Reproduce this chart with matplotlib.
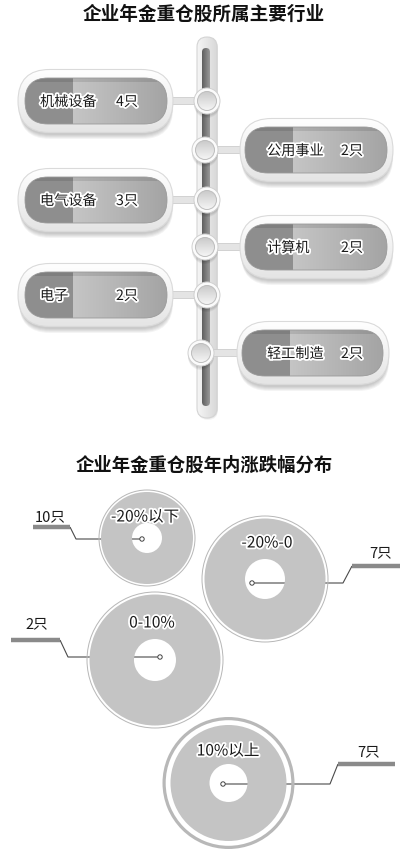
import numpy as np
import matplotlib
matplotlib.use("Agg")
import matplotlib.pyplot as plt
from matplotlib.patches import FancyBboxPatch, Circle, Wedge, Rectangle
import matplotlib.patheffects as pe
from matplotlib.colors import to_rgb

plt.rcParams['font.family'] = ['Noto Sans CJK SC', 'DejaVu Sans']

# ---------------- data ----------------
title1 = "企业年金重仓股所属主要行业"
industries = ["机械设备", "公用事业", "电气设备", "计算机", "电子", "轻工制造"]
industry_counts = [4, 2, 3, 2, 2, 2]

title2 = "企业年金重仓股年内涨跌幅分布"
ranges = ["-20%以下", "-20%-0", "0-10%", "10%以上"]
range_counts = [10, 7, 2, 7]

# ---------------- figure ----------------
fig = plt.figure(figsize=(4.07, 8.52), dpi=100)
ax = fig.add_axes([0, 0, 1, 1])
W, H = 407, 852


def grad(patch, x0, x1, y0, y1, c0, c1, vertical=False, zorder=2):
    n = 256
    t = np.linspace(0, 1, n)[:, None]
    a, b = np.array(to_rgb(c0)), np.array(to_rgb(c1))
    cols = a * (1 - t) + b * t
    img = cols[:, None, :] if vertical else cols[None, :, :]
    im = ax.imshow(img, extent=(x0, x1, y1, y0), origin='upper', aspect='auto',
                   zorder=zorder, interpolation='bilinear')
    im.set_clip_path(patch)
    return im


def pill(x0, x1, yc, h, zorder=2, **kw):
    r = h / 2
    p = FancyBboxPatch((x0 + r, yc), (x1 - x0) - 2 * r, 0,
                       boxstyle=f"round,pad={r},rounding_size={r}",
                       zorder=zorder, **kw)
    ax.add_patch(p)
    return p


halo = [pe.withStroke(linewidth=2.6, foreground='white')]

# ---------------- title 1 ----------------
ax.text(204, 14, title1, ha='center', va='center', fontsize=13.4,
        fontweight='bold', color='#111111')

# vertical spine
bar_x0, bar_x1, bar_y0, bar_y1 = 197, 217, 37, 418
for k in range(3):
    ax.add_patch(FancyBboxPatch((bar_x0 + 10 + 1, bar_y0 + 10 + k), 0, bar_y1 - bar_y0 - 20,
                                boxstyle="round,pad=10,rounding_size=10", facecolor='#000000',
                                alpha=0.04, edgecolor='none', zorder=1))
spine = FancyBboxPatch((bar_x0 + 10, bar_y0 + 10), 0, bar_y1 - bar_y0 - 20,
                       boxstyle="round,pad=10,rounding_size=10",
                       facecolor='none', edgecolor='#d4d4d4', lw=0.8, zorder=1.5)
ax.add_patch(spine)
grad(spine, bar_x0, bar_x1, bar_y0, bar_y1, '#f6f6f6', '#d8d8d8', zorder=1.4)
stripe = FancyBboxPatch((206, 52), 0, 350, boxstyle="round,pad=4,rounding_size=4",
                        facecolor='none', edgecolor='none', zorder=1.6)
ax.add_patch(stripe)
grad(stripe, 202, 210, 48, 406, '#5e5e5e', '#9a9a9a', zorder=1.6)

# industry pills
centers_y = [101, 150, 200, 247, 295, 353]
sides = ['L', 'R', 'L', 'R', 'L', 'R']
knob_x = [207, 205, 207, 205, 207, 201]
for name, cnt, yc, side, kx in zip(industries, industry_counts, centers_y, sides, knob_x):
    if side == 'L':
        ox0, ox1, ix0, ix1, dark_x1 = 18, 173, 25, 167, 73
        name_x, cnt_x = 40, 127
        conn = (ox1 - 3, kx - 10)
    else:
        if name == "轻工制造":
            ox0, ox1, ix0, ix1, dark_x1 = 237, 389, 242, 383, 290
        else:
            ox0, ox1, ix0, ix1, dark_x1 = 240, 393, 245, 387, 293
        name_x, cnt_x = 267, 352
        conn = (kx + 10, ox0 + 3)
    # connector
    ax.add_patch(Rectangle((conn[0], yc - 4), conn[1] - conn[0], 7, facecolor='#e4e4e4',
                           edgecolor='#cccccc', lw=0.6, zorder=2.5))
    # shadow
    for k in range(5):
        pill(ox0 + 1, ox1 - 1 + k * 0.3, yc + 3 + k, 62, zorder=2.6,
             facecolor='black', edgecolor='none', alpha=0.045)
    outer = pill(ox0, ox1, yc, 63, zorder=2.8, facecolor='none', edgecolor='#dadada', lw=0.8)
    grad(outer, ox0, ox1, yc - 32, yc + 32, '#ffffff', '#e4e4e4', vertical=True, zorder=2.7)
    inner = pill(ix0, ix1, yc, 46, zorder=3.2, facecolor='none', edgecolor='#9a9a9a', lw=0.6)
    grad(inner, ix0, ix1, yc - 23, yc + 23, '#d6d6d6', '#a4a4a4', zorder=3.0)
    dark = Rectangle((ix0, yc - 23), dark_x1 - ix0, 46, facecolor='#8e8e8e',
                     edgecolor='none', zorder=3.1)
    ax.add_patch(dark)
    dark.set_clip_path(inner)
    # top inner shadow
    sh = Rectangle((ix0, yc - 23), ix1 - ix0, 4, facecolor='black', alpha=0.10,
                   edgecolor='none', zorder=3.15)
    ax.add_patch(sh)
    sh.set_clip_path(inner)
    ax.text(name_x, yc + 1, name, ha='left', va='center', fontsize=10.2, color='#1a1a1a',
            path_effects=halo, zorder=4)
    ax.text(cnt_x, yc + 1, f"{cnt}只", ha='center', va='center', fontsize=10.2, color='#1a1a1a',
            path_effects=halo, zorder=4)
    # knob
    for k in range(3):
        ax.add_patch(Circle((kx, yc + 2 + k), 13, facecolor='black', alpha=0.05,
                            edgecolor='none', zorder=3.3))
    ax.add_patch(Circle((kx, yc), 13, facecolor='#fbfbfb', edgecolor='#d0d0d0', lw=0.7, zorder=3.4))
    kn = Circle((kx, yc), 9.5, facecolor='none', edgecolor='#bdbdbd', lw=0.7, zorder=3.6)
    ax.add_patch(kn)
    grad(kn, kx - 10, kx + 10, yc - 10, yc + 10, '#c9c9c9', '#f7f7f7', vertical=True, zorder=3.5)

# ---------------- title 2 ----------------
ax.text(204, 465, title2, ha='center', va='center', fontsize=13.2,
        fontweight='bold', color='#111111')

# donuts
donut_cx = [147, 265, 155, 228.5]
donut_cy = [538, 579, 660, 783]
ring_r = [48.5, 63.5, 68.5, 66]
fill_r = [46, 60.5, 65.5, 58]
hole_r = [15, 20, 21, 19]
ring_w = [1.0, 1.0, 1.0, 3.2]
label_xy = [(145, 517), (267, 543), (152, 623), (228, 751)]
dots = [(142, 539), (252, 583), (160, 657), (223, 784)]
leaders = [
    [(142, 539), (76, 539), (70, 527)],
    [(252, 583), (343, 583), (352, 566)],
    [(160, 657), (68, 657), (60, 640)],
    [(223, 784), (330, 784), (338, 764)],
]
bars = [((33, 527), (70, 527)), ((352, 566), (400, 566)),
        ((11, 640), (60, 640)), ((338, 764), (395, 764))]
count_xy = [(50, 517), (381, 553), (37, 624), (369, 752)]

for i, (rng, cnt) in enumerate(zip(ranges, range_counts)):
    cx, cy = donut_cx[i], donut_cy[i]
    xs, ys = zip(*leaders[i])
    ax.plot(xs, ys, color='#4a4a4a', lw=0.8, zorder=5, solid_capstyle='butt')
    (bx0, by0), (bx1, by1) = bars[i]
    ax.plot([bx0, bx1], [by0, by1], color='#8a8a8a', lw=3.2, solid_capstyle='butt', zorder=5)
    ax.add_patch(Wedge((cx, cy), ring_r[i], 0, 360, width=ring_w[i], facecolor='#b8b8b8',
                       edgecolor='none', zorder=6))
    ax.add_patch(Wedge((cx, cy), fill_r[i], 0, 360, width=fill_r[i] - hole_r[i],
                       facecolor='#c4c4c4', edgecolor='none', zorder=6))
    ax.add_patch(Circle(dots[i], 2.2, facecolor='white', edgecolor='#444444', lw=0.7, zorder=7))
    ax.text(*label_xy[i], rng, ha='center', va='center', fontsize=11.2, color='#1a1a1a',
            path_effects=halo, zorder=8)
    ax.text(*count_xy[i], f"{cnt}只", ha='center', va='center', fontsize=10.5,
            color='#1a1a1a', zorder=8)

ax.set_xlim(0, W)
ax.set_ylim(H, 0)
ax.axis('off')
fig.savefig("out.png", dpi=100, facecolor='white')
